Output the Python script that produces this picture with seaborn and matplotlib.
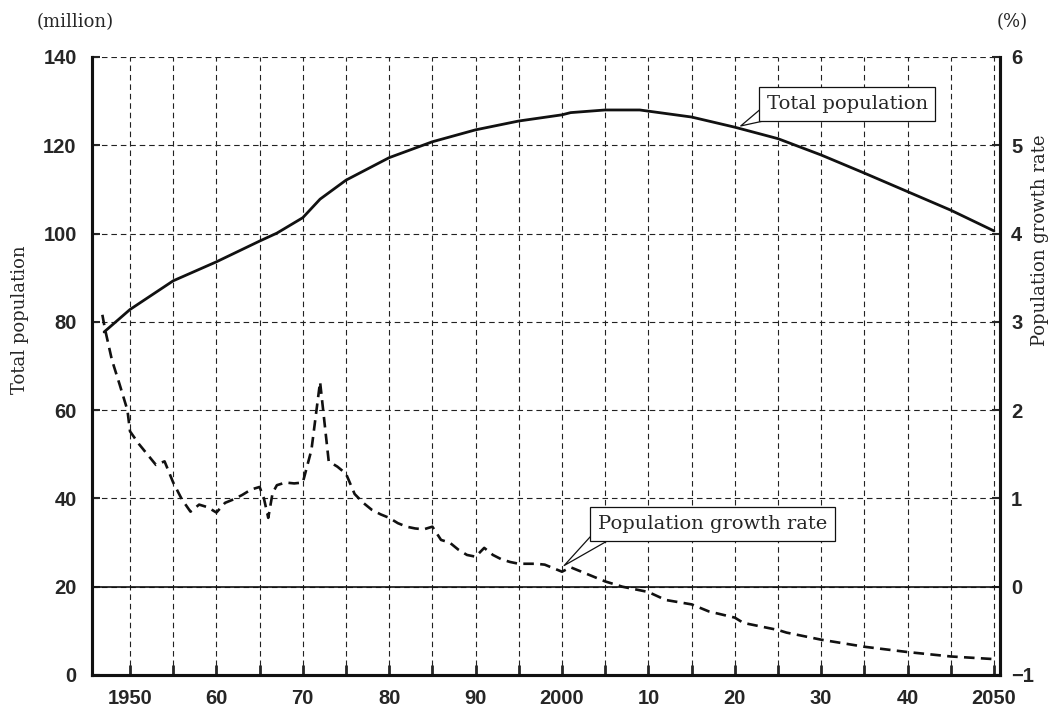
import matplotlib
matplotlib.use("Agg")
import matplotlib.pyplot as plt
import seaborn as sns

# Total population (million), left axis
pop_years = [1947, 1950, 1955, 1960, 1965, 1967, 1970, 1972, 1975, 1980,
             1985, 1990, 1995, 2000, 2001, 2005, 2009, 2015, 2020, 2025,
             2030, 2035, 2040, 2045, 2050]
pop_values = [77.7, 82.8, 89.3, 93.6, 98.3, 100.1, 103.6, 107.8, 112.1, 117.2,
              120.8, 123.5, 125.5, 126.9, 127.4, 128.0, 128.0, 126.4, 124.1, 121.5,
              117.8, 113.7, 109.5, 105.3, 100.6]

# Population growth rate (%), right axis
rate_years = [1946.8, 1947.1, 1947.9, 1948.8, 1949.7, 1950, 1951, 1952, 1953, 1954,
              1955, 1956, 1957, 1958, 1959, 1960, 1961, 1962, 1963, 1964,
              1965, 1965.5, 1966, 1966.5, 1967, 1968, 1969, 1970, 1971, 1972,
              1973, 1974, 1975, 1976, 1977, 1978, 1979, 1980, 1981, 1982,
              1983, 1984, 1985, 1986, 1987, 1988, 1989, 1990, 1991, 1992,
              1993, 1994, 1995, 1996, 1997, 1998, 2000, 2001, 2003, 2005,
              2007, 2010, 2012, 2015, 2017, 2020, 2021, 2025, 2026, 2030,
              2035, 2040, 2045, 2050]
rate_values = [3.08, 2.92, 2.57, 2.29, 2.00, 1.76, 1.62, 1.50, 1.38, 1.42,
               1.18, 0.99, 0.85, 0.93, 0.90, 0.84, 0.95, 0.99, 1.04, 1.10,
               1.13, 1.00, 0.78, 1.06, 1.15, 1.18, 1.17, 1.18, 1.55, 2.32,
               1.42, 1.36, 1.28, 1.05, 0.95, 0.87, 0.82, 0.78, 0.72, 0.68,
               0.66, 0.65, 0.68, 0.53, 0.50, 0.42, 0.36, 0.34, 0.44, 0.36,
               0.31, 0.28, 0.26, 0.26, 0.26, 0.25, 0.17, 0.22, 0.14, 0.06,
               0.00, -0.06, -0.15, -0.20, -0.28, -0.35, -0.41, -0.49, -0.52, -0.60,
               -0.68, -0.74, -0.79, -0.82]

x_ticks = list(range(1950, 2051, 5))
x_labels = ["1950", "", "60", "", "70", "", "80", "", "90", "", "2000",
            "", "10", "", "20", "", "30", "", "40", "", "2050"]
left_ticks = list(range(0, 141, 20))
right_ticks = list(range(-1, 7))

sns.set_theme(style="white")
plt.rcParams["font.family"] = ["DejaVu Serif"]

W, H = 1055, 710
fig = plt.figure(figsize=(W / 100, H / 100), dpi=100)
ax = fig.add_axes([92 / W, 35 / H, 908 / W, 618 / H])
ax2 = ax.twinx()

sns.lineplot(x=pop_years, y=pop_values, ax=ax, color="#111111", lw=2.0)
sns.lineplot(x=rate_years, y=rate_values, ax=ax2, color="#111111", lw=1.9,
             linestyle=(0, (4, 2.4)))
ax2.axhline(0, color="#111111", lw=1.2, zorder=1)

ax.set_xlim(1945.6, 2050.7)
ax.set_ylim(0, 140)
ax2.set_ylim(-1, 6)

tick_font = dict(fontfamily="Liberation Sans", fontweight="bold", fontsize=14.5)
ax.set_xticks(x_ticks, labels=x_labels, **tick_font)
ax.set_yticks(left_ticks, labels=[str(v) for v in left_ticks], **tick_font)
ax2.set_yticks(right_ticks, labels=[str(v).replace("-", "\u2212") for v in right_ticks], **tick_font)

ax.grid(True, color="#222222", lw=0.8, linestyle=(0, (5, 3.5)))
ax.tick_params(axis="x", bottom=True, direction="in", length=7, width=2, pad=10)
ax.tick_params(axis="y", left=True, direction="in", length=6, width=1.5, pad=11)
ax2.tick_params(axis="y", right=True, direction="in", length=6, width=1.5, pad=8)

for a in (ax, ax2):
    a.spines["top"].set_visible(False)
    for s in ("left", "right", "bottom"):
        a.spines[s].set_color("#111111")
        a.spines[s].set_linewidth(2.2)
    a.set_xlabel("")
    a.set_ylabel("")

# axis titles and units
fig.text(75 / W, 1 - 22 / H, "(million)", ha="center", va="center", fontsize=13)
fig.text(1012 / W, 1 - 22 / H, "(%)", ha="center", va="center", fontsize=13)
fig.text(20 / W, 1 - 320 / H, "Total population", rotation=90,
         ha="center", va="center", fontsize=13)
fig.text(1040 / W, 1 - 240 / H, "Population growth rate", rotation=90,
         ha="center", va="center", fontsize=13)

# callout boxes: the wedge starts inside the box corner, the box covers its base
box = dict(boxstyle="square,pad=0.4", fc="white", ec="#111111", lw=0.9)
wedge = dict(arrowstyle="wedge,tail_width=0.9,shrink_factor=0.5", fc="white",
             ec="#111111", lw=0.9, relpos=(0.05, 0.2), patchA=None)
ax.annotate("Total population", xy=(2020.4, 124.1), xytext=(2033.0, 129.4),
            ha="center", va="center", fontsize=14, bbox=box, arrowprops=wedge)
ax2.annotate("Population growth rate", xy=(2000, 0.22), xytext=(2017.4, 0.71),
             ha="center", va="center", fontsize=14, bbox=box, arrowprops=wedge)

fig.savefig("out.png", dpi=100)
